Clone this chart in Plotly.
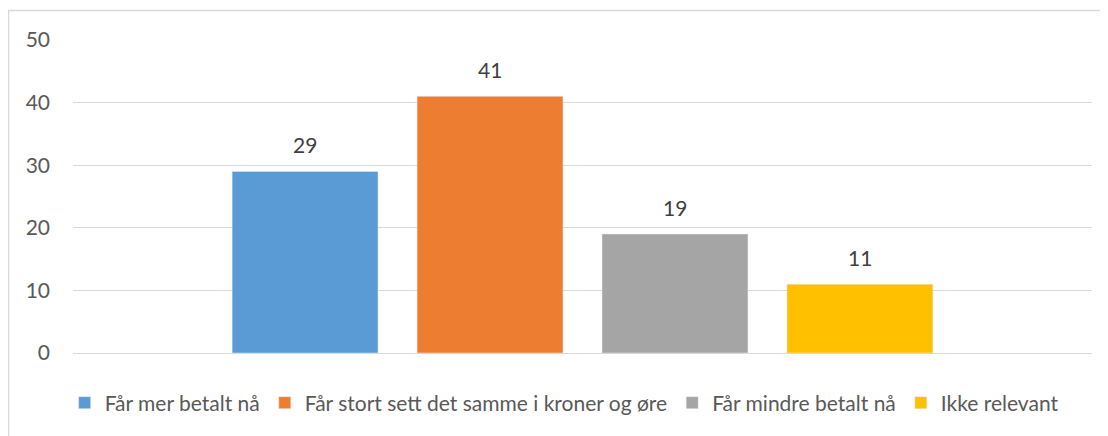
import plotly.graph_objects as go

categories = [""]
series_names = ["Får mer betalt nå", "Får stort sett det samme i kroner og øre",
                "Får mindre betalt nå", "Ikke relevant"]
series_values = [29, 41, 19, 11]
series_colors = ["#5B9BD5", "#ED7D31", "#A5A5A5", "#FFC000"]
y_ticks = [0, 10, 20, 30, 40, 50]

FONT = "Lato, Carlito, Calibri, 'Noto Sans', sans-serif"

# page body has an 8px margin, so the figure is drawn offset by (8, 8)
W, H = 1100, 428
L, T = 65, 32
PLOT_R, PLOT_B = 1084, 345
R, B = W - PLOT_R, H - PLOT_B
PW, PH = PLOT_R - L, PLOT_B - T

BARGAP, BARGROUPGAP = 0.274, 0.211

fig = go.Figure()
for name, val, col in zip(series_names, series_values, series_colors):
    fig.add_trace(go.Bar(
        x=categories, y=[val], name=name, marker_color=col,
    ))

# data labels placed above each bar (centres derived from the group layout)
n = len(series_values)
slot = (1 - BARGAP) / n
for i, val in enumerate(series_values):
    fig.add_annotation(
        x=-(1 - BARGAP) / 2 + (i + 0.5) * slot, y=val, xref="x", yref="y",
        text=str(val), showarrow=False, yanchor="bottom", yshift=12,
        font=dict(size=21, color="#404040", family=FONT),
    )

fig.update_layout(
    width=W, height=H,
    margin=dict(l=L, r=R, t=T, b=B),
    paper_bgcolor="white", plot_bgcolor="white",
    barmode="group", bargap=BARGAP, bargroupgap=BARGROUPGAP,
    font=dict(family=FONT, size=21, color="#595959"),
    showlegend=True,
    legend=dict(orientation="h", x=0.482, xanchor="center", y=-50 / PH, yanchor="middle",
                font=dict(size=21, color="#595959"), itemwidth=30, tracegroupgap=0),
)
fig.update_xaxes(showticklabels=False, showgrid=False, zeroline=False, showline=False)
fig.update_yaxes(range=[0, 50], tickvals=y_ticks, showgrid=True, gridcolor="#D9D9D9",
                 gridwidth=1, zeroline=True, zerolinecolor="#D9D9D9", zerolinewidth=1,
                 showline=False, ticks="", ticklabelstandoff=22,
                 tickfont=dict(size=21, color="#595959"))

fig.add_shape(type="rect", xref="paper", yref="paper",
              x0=(0.5 - L) / PW, x1=(W + 5 - L) / PW,
              y0=-(H + 5 - PLOT_B) / PH, y1=1 + (T - 2.5) / PH,
              line=dict(color="#D9D9D9", width=1.5), fillcolor="rgba(0,0,0,0)", layer="below")

fig.write_html("out.html")
